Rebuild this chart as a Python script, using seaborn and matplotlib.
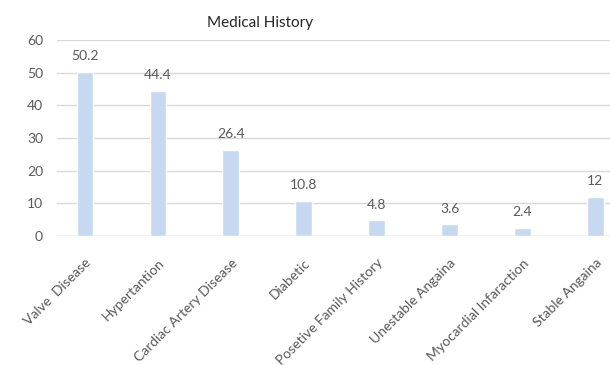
import matplotlib
matplotlib.use("Agg")
import matplotlib.pyplot as plt
import seaborn as sns
import pandas as pd

categories = ["Valve  Disease", "Hypertantion", "Cardiac Artery Disease", "Diabetic",
              "Posetive Family History", "Unestable Angaina", "Myocardial Infaraction",
              "Stable Angaina"]
values = [50.2, 44.4, 26.4, 10.8, 4.8, 3.6, 2.4, 12]
y_ticks = [0, 10, 20, 30, 40, 50, 60]

sns.set_theme(style="white")
plt.rcParams["font.family"] = ["Lato", "DejaVu Sans"]

text_color = "#595959"
bar_color = "#C6D9F1"
grid_color = "#D9D9D9"

df = pd.DataFrame({"category": categories, "value": values})

fig = plt.figure(figsize=(6.10, 3.65), dpi=100)
ax = fig.add_axes([57 / 610, (365 - 236) / 365, (610 - 57) / 610, (236 - 40) / 365])

sns.barplot(data=df, x="category", y="value", color=bar_color, width=0.23,
            saturation=1, ax=ax, zorder=3)

ax.set_ylim(0, 60)
ax.set_yticks(y_ticks)
ax.set_xlim(-0.384, 7.2)
ax.yaxis.grid(True, color=grid_color, linewidth=1, zorder=0)
ax.set_axisbelow(True)
for s in ax.spines.values():
    s.set_visible(False)
ax.axhline(0, color=grid_color, linewidth=1, zorder=1)

ax.set_xlabel("")
ax.set_ylabel("")
ax.tick_params(axis="y", length=0, pad=10, labelsize=10, labelcolor=text_color)
ax.tick_params(axis="x", length=0, pad=15, labelsize=10, labelcolor=text_color)
plt.setp(ax.get_xticklabels(), rotation=45, ha="right", rotation_mode="anchor")

for cont in ax.containers:
    ax.bar_label(cont, labels=[f"{v:g}" for v in values], padding=7,
                 fontsize=10, color=text_color)

fig.text(260 / 610, 1 - 23 / 365, "Medical History", ha="center", va="center",
         fontsize=11, color="#262626")

fig.savefig("out.png", dpi=100, facecolor="white")
